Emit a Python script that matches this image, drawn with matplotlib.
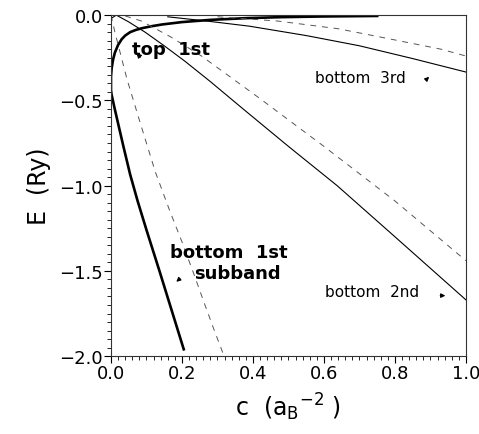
import numpy as np
import matplotlib
matplotlib.use('Agg')
import matplotlib.pyplot as plt
from matplotlib.ticker import MultipleLocator

# values
# thick solid: bottom 1st subband
b1_c = [0.0, 0.01, 0.02, 0.035, 0.054, 0.075, 0.10, 0.138, 0.17, 0.205]
b1_e = [-0.45, -0.545, -0.635, -0.77, -0.935, -1.09, -1.26, -1.51, -1.725, -1.96]

# thick solid: top 1st
t1_c = [0.0, 0.0, 0.002, 0.006, 0.011, 0.02, 0.03, 0.04, 0.054, 0.07, 0.087,
        0.115, 0.144, 0.2, 0.28, 0.38, 0.48, 0.6, 0.75]
t1_e = [-0.45, -0.36, -0.31, -0.26, -0.22, -0.175, -0.142, -0.12, -0.10, -0.087,
        -0.077, -0.065, -0.055, -0.041, -0.028, -0.018, -0.012, -0.008, -0.005]

# thin solid: bottom 2nd
b2_c = [0.0, 0.015, 0.05, 0.096, 0.15, 0.208, 0.28, 0.372, 0.5, 0.637, 0.8, 1.0]
b2_e = [-0.02, 0.0, -0.04, -0.10, -0.18, -0.27, -0.39, -0.55, -0.77, -1.0, -1.30, -1.67]

# thin solid: bottom 3rd
b3_c = [0.16, 0.27, 0.39, 0.55, 0.70, 0.85, 1.0]
b3_e = [-0.01, -0.035, -0.065, -0.12, -0.18, -0.255, -0.334]

# dashed lines
d1_c = [0.0, 0.011, 0.045, 0.082, 0.125, 0.166, 0.2, 0.232, 0.263, 0.293, 0.315]
d1_e = [0.0, -0.10, -0.375, -0.63, -0.92, -1.15, -1.33, -1.51, -1.69, -1.86, -1.98]

d2_c = [0.04, 0.086, 0.17, 0.255, 0.42, 0.60, 0.80, 1.0]
d2_e = [-0.005, -0.035, -0.13, -0.24, -0.49, -0.77, -1.09, -1.44]

d3_c = [0.30, 0.47, 0.64, 0.75, 0.93, 1.0]
d3_e = [-0.01, -0.035, -0.08, -0.125, -0.20, -0.24]

fig = plt.figure(figsize=(4.79, 4.35), dpi=100)
ax = fig.add_axes([0.2317, 0.179, 0.741, 0.784])

ax.plot(b1_c, b1_e, color='black', lw=1.9)
ax.plot(t1_c, t1_e, color='black', lw=1.9)
ax.plot(b2_c, b2_e, color='black', lw=0.8)
ax.plot(b3_c, b3_e, color='black', lw=0.8)
for c, e in [(d1_c, d1_e), (d2_c, d2_e), (d3_c, d3_e)]:
    ax.plot(c, e, color='#555555', lw=0.7, dashes=(6, 6))

ax.set_xlim(0, 1)
ax.set_ylim(-2, 0)
ax.xaxis.set_major_locator(MultipleLocator(0.2))
ax.xaxis.set_minor_locator(MultipleLocator(0.02))
ax.yaxis.set_major_locator(MultipleLocator(0.5))
ax.yaxis.set_minor_locator(MultipleLocator(0.05))
ax.tick_params(which='major', direction='out', length=5, width=0.8, labelsize=13, pad=1)
ax.tick_params(which='minor', direction='out', length=3, width=0.6)
for s in ax.spines.values():
    s.set_linewidth(0.8)
    s.set_color('#333333')

ax.set_xlabel(r'c  $(\mathrm{a}_\mathrm{B}{}^{-2}\ )$', fontsize=17, labelpad=6)
ax.set_ylabel('E  (Ry)', fontsize=17, labelpad=6)

ax.text(0.06, -0.2, 'top  1st', fontsize=13, fontweight='bold', va='center')
ax.annotate('', xy=(0.066, -0.21), xytext=(0.088, -0.258),
            arrowprops=dict(arrowstyle='-|>', color='black', lw=0.9, mutation_scale=7))

ax.text(0.575, -0.364, 'bottom  3rd', fontsize=11, va='center')
ax.annotate('', xy=(0.902, -0.35), xytext=(0.885, -0.385),
            arrowprops=dict(arrowstyle='-|>', color='black', lw=0.9, mutation_scale=6))

ax.text(0.166, -1.39, 'bottom  1st', fontsize=13, fontweight='bold', va='center')
ax.text(0.234, -1.51, 'subband', fontsize=13, fontweight='bold', va='center')
ax.annotate('', xy=(0.178, -1.575), xytext=(0.2, -1.535),
            arrowprops=dict(arrowstyle='-|>', color='black', lw=0.9, mutation_scale=6))

ax.text(0.603, -1.62, 'bottom  2nd', fontsize=11, va='center')
ax.annotate('', xy=(0.95, -1.645), xytext=(0.92, -1.645),
            arrowprops=dict(arrowstyle='-|>', color='black', lw=0.9, mutation_scale=6))

fig.savefig('out.png', dpi=100)
